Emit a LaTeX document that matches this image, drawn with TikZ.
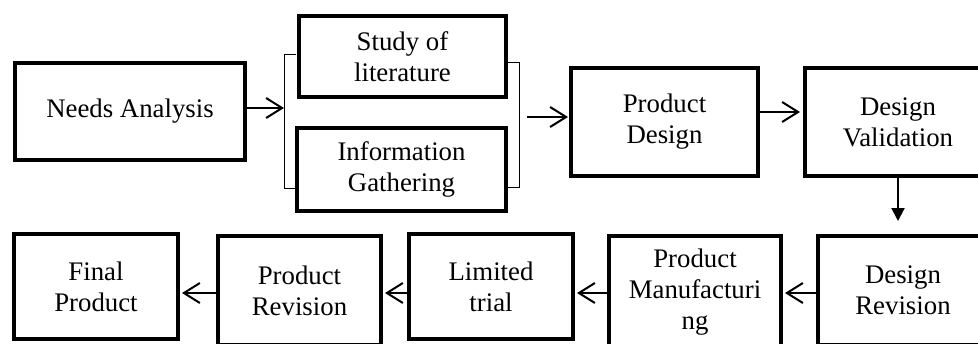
\documentclass[tikz,border=0pt]{standalone}
\usepackage{fontspec}
\setmainfont{Liberation Serif}
\usetikzlibrary{arrows.meta}
\usetikzlibrary{calc}
\usetikzlibrary{positioning}

\tikzset{
    stagebox/.style={draw, line width=2pt, align=center, inner sep=0pt,
        font=\fontsize{13.4}{15.5}\selectfont},
    flow/.style={-{Straight Barb[length=8pt,width=10pt]}, line width=1pt},
    down/.style={-{Triangle[length=6.5pt,width=6.5pt]}, line width=1pt},
    bracket/.style={line width=0.5pt}
}

\begin{document}
\begin{tikzpicture}[x=0.5pt, y=-0.5pt]

    \useasboundingbox (0,0) rectangle (978,343);

    % top row
    \node[stagebox, minimum width=115pt, minimum height=48.5pt] (needs) at (130,111.5) {Needs Analysis};
    \node[stagebox, minimum width=103.5pt, minimum height=40.5pt] (study) at (402.5,56.5) {Study of\\literature};
    \node[stagebox, minimum width=104.5pt, minimum height=41.5pt] (info) at (401.5,169.5) {Information\\Gathering};
    \node[stagebox, minimum width=93.5pt, minimum height=54pt] (pdesign) at (664.5,122) {Product\\Design};
    \node[stagebox, minimum width=93pt, minimum height=54pt] (dval) at (898,122) {Design\\Validation};

    % bottom row
    \node[stagebox, minimum width=82pt, minimum height=52.5pt] (final) at (96,286.5) {Final\\Product};
    \node[stagebox, minimum width=81.5pt, minimum height=54.5pt] (prev) at (299.5,290.5) {Product\\Revision};
    \node[stagebox, minimum width=82pt, minimum height=52.5pt] (limited) at (491,286.5) {Limited\\trial};
    \node[stagebox, minimum width=86pt, minimum height=56pt] (pmanuf) at (695,292) {Product\\Manufacturi\\ng};
    \node[stagebox, minimum width=85pt, minimum height=54.5pt] (drev) at (903,290.5) {Design\\Revision};

    % brackets round the two studies
    \draw[bracket] (296,54) -- (284,54) -- (284,188) -- (298,188);
    \draw[bracket] (508,62) -- (519,62) -- (519,187) -- (508,187);
    \coordinate (lbr) at (284,108);
    \coordinate (rbr) at (527,117);

    \draw[flow] (needs.east |- lbr) -- (lbr);
    \draw[flow, shorten >=0.5pt] (rbr) -- (rbr -| pdesign.west);
    \draw[flow, shorten >=1.5pt] ([yshift=5pt]pdesign.east) -- ([yshift=5pt]dval.west);

    \coordinate (drevtop) at ([yshift=6.5pt]drev.north);
    \draw[down] (dval.south) -- (dval.south |- drevtop);

    \coordinate (row) at (0,293);
    \foreach \a/\b in {drev/pmanuf, pmanuf/limited, limited/prev, prev/final}
        \draw[flow, shorten >=1pt] (\a.west |- row) -- (\b.east |- row);

\end{tikzpicture}
\end{document}
